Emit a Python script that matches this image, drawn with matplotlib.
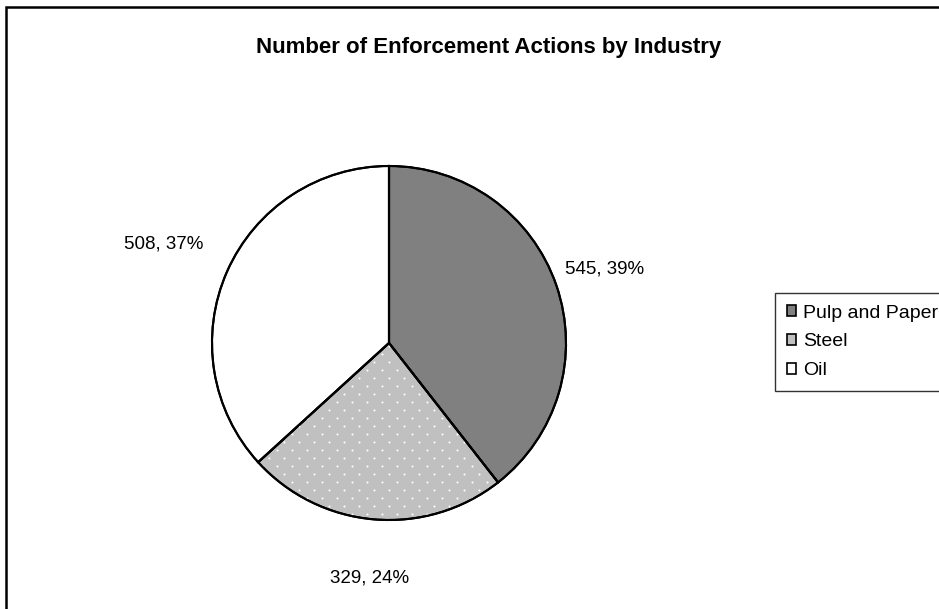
import matplotlib
matplotlib.use("Agg")
import matplotlib.pyplot as plt
from matplotlib.patches import Patch, Rectangle
import numpy as np

industries = ["Pulp and Paper", "Steel", "Oil"]
actions = [545, 329, 508]
colors = ["#808080", "#C0C0C0", "#FFFFFF"]
label_dist = [1.29, 1.33, 1.39]

plt.rcParams['font.family'] = ['Liberation Sans', 'DejaVu Sans']

W, H = 939, 609
fig = plt.figure(figsize=(W / 100, H / 100), dpi=100)

# pie axes: centre (389, 343) px, radius 177 px
cx, cy, r = 389, 343, 177
ax = fig.add_axes([(cx - r) / W, (H - cy - r) / H, 2 * r / W, 2 * r / H])

wedges, _ = ax.pie(actions, colors=colors, startangle=90, counterclock=False,
                   wedgeprops=dict(edgecolor="black", linewidth=1.5))

# dotted fill on Steel: staggered white dots, clipped to the wedge
sx, sy = 15 / r, 8 / r
ys = np.arange(-1.1, 1.1, sy)
px, py = [], []
for k, yv in enumerate(ys):
    xs = np.arange(-1.1, 1.1, sx) + (sx / 2 if k % 2 else 0)
    px.extend(xs)
    py.extend([yv] * len(xs))
dots = ax.scatter(px, py, s=2.2, c="white", linewidths=0, zorder=2)
dots.set_clip_path(wedges[1])

# outlines on top
ax.pie(actions, startangle=90, counterclock=False,
       wedgeprops=dict(fill=False, edgecolor="black", linewidth=1.5, zorder=3))

total = sum(actions)
for w, v, d in zip(wedges, actions, label_dist):
    ang = np.deg2rad((w.theta1 + w.theta2) / 2)
    ax.text(d * np.cos(ang), d * np.sin(ang), f"{v}, {round(100 * v / total)}%",
            ha="center", va="center", fontsize=13.5)
ax.set_xlim(-1, 1)
ax.set_ylim(-1, 1)

fig.text(489 / W, 1 - 47 / H, "Number of Enforcement Actions by Industry",
         ha="center", va="center", fontsize=16, fontweight="bold")

handles = [Patch(facecolor=c, edgecolor="black", linewidth=1.2) for c in colors]
leg = fig.legend(handles, industries, loc="upper left",
                 bbox_to_anchor=(775 / W, 1 - 293 / H), fontsize=14,
                 frameon=True, fancybox=False, edgecolor="black",
                 handlelength=0.5, handleheight=0.5, handletextpad=0.35,
                 labelspacing=0.6, borderpad=0.6, borderaxespad=0)
leg.get_frame().set_linewidth(1.0)

# chart area border (clipped at right and bottom)
fig.patches.append(Rectangle((5.5 / W, -0.1), 1.2, 1 - 7 / H + 0.1,
                             transform=fig.transFigure, fill=False,
                             edgecolor="black", linewidth=1.8))

fig.savefig("out.png", dpi=100)
